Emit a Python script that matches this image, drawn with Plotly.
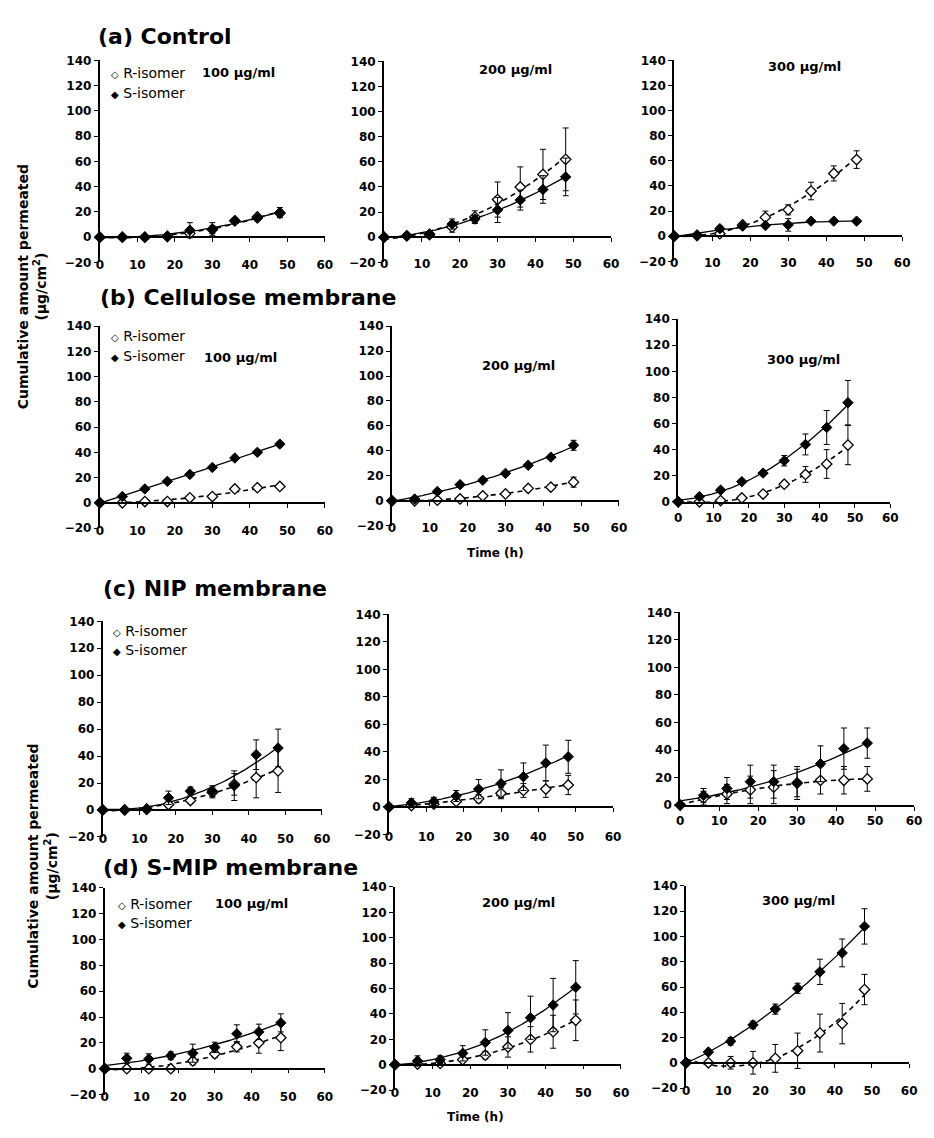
import numpy as np
import plotly.graph_objects as go

# ---------------- data ----------------
time_h = [0, 6, 12, 18, 24, 30, 36, 42, 48]
x_tick_vals = [0, 10, 20, 30, 40, 50, 60]
row_titles = ["(a) Control", "(b) Cellulose membrane", "(c) NIP membrane", "(d) S-MIP membrane"]
conc_labels = ["100 µg/ml", "200 µg/ml", "300 µg/ml"]
series_names = ["R-isomer", "S-isomer"]

# (a) Control
ctrl100_R = [0, 0, 0, 0.5, 3, 6, 13, 16, 19]
ctrl100_R_err = [0, 0, 0, 0.5, 2, 3, 2, 2, 3]
ctrl100_S = [0, 0, 0, 1, 5.5, 6.5, 13, 15, 19.5]
ctrl100_S_err = [0, 0, 0, 1, 6, 5, 2, 2, 4]
ctrl200_R = [0, 1, 2, 8, 16, 30, 40, 50, 62]
ctrl200_R_err = [0, 1, 1, 4, 5, 14, 16, 20, 25]
ctrl200_S = [0, 1.3, 2.6, 10.5, 14.4, 21.7, 29.6, 38, 48]
ctrl200_S_err = [0, 1, 1, 4, 3, 10, 8, 11, 15]
ctrl300_R = [0, 0.5, 2, 9, 15, 21, 36, 50, 61]
ctrl300_R_err = [0, 1, 1, 2, 5, 4, 7, 6, 7]
ctrl300_S = [0, 1, 6, 8, 8.5, 9, 12, 12, 12]
ctrl300_S_err = [0, 1, 2, 2, 1, 5, 1, 1, 1]

# (b) Cellulose membrane
cell100_R = [0, 0, 1, 1, 4, 5, 11, 12, 13]
cell100_R_err = [0, 0.5, 1, 1, 1, 1, 2, 1, 2]
cell100_S = [0, 5, 11, 17, 22.5, 28, 35.5, 40, 46.5]
cell100_S_err = [0, 1, 1, 1, 1, 1, 1.5, 1.5, 2]
cell200_R = [0, 0, 0.5, 1.5, 4, 5.5, 10, 11, 15]
cell200_R_err = [0, 0.5, 0.5, 1, 1, 1, 1.5, 1.5, 4]
cell200_S = [0, 1.5, 7.5, 13, 16.5, 22, 28.5, 35, 44.5]
cell200_S_err = [0, 0.5, 1, 1, 1, 1, 1, 1.5, 4]
cell300_R = [0, 0, 1, 3, 6, 13.5, 21, 29, 43.5]
cell300_R_err = [0, 0.5, 0.5, 1.5, 1.5, 2, 6, 11, 15]
cell300_S = [0, 4, 9, 15.5, 22, 31.5, 44, 57, 76]
cell300_S_err = [0, 1, 1, 1, 1, 4, 8, 13, 17]

# (c) NIP membrane
nip100_R = [0, 0, 0.5, 4, 7, 13, 19, 24, 29]
nip100_R_err = [0, 0, 0.5, 2, 2, 4, 8, 15, 16]
nip100_S = [0, 0, 1, 9, 14, 14, 18, 41, 46]
nip100_S_err = [0, 0, 0.5, 5, 3, 4, 11, 11, 14]
nip200_R = [0, 1, 2, 4, 6, 10, 12, 13, 16]
nip200_R_err = [0, 1, 1, 2, 3, 4, 5, 6, 7]
nip200_S = [0, 3, 4, 8, 13, 17, 22, 32, 36.5]
nip200_S_err = [0, 3, 3, 4, 7, 10, 10, 13, 12]
nip300_R = [0, 5, 8, 11, 13, 16, 18, 18, 19]
nip300_R_err = [0, 5, 7, 10, 12, 10, 10, 10, 9]
nip300_S = [0, 7, 12, 17, 17, 16, 30, 41, 45]
nip300_S_err = [0, 5, 8, 12, 12, 12, 13, 15, 11]

# (d) S-MIP membrane
smip100_R = [0, 0, 0, 0, 6, 11.5, 17, 20, 24]
smip100_R_err = [0, 0.5, 0.5, 0.5, 3, 3, 4, 8, 10]
smip100_S = [0, 8, 7.5, 10, 12, 16.5, 27, 28.5, 35.5]
smip100_S_err = [0, 4, 4, 3, 7, 4, 7, 6, 7]
smip200_R = [0, 0.5, 1, 4, 7.5, 14, 20, 26, 35]
smip200_R_err = [0, 0.5, 1, 2, 3, 8, 10, 13, 16]
smip200_S = [0, 3, 4, 9, 17.5, 27, 37, 47, 61]
smip200_S_err = [0, 4, 3, 6, 10, 14, 17, 21, 21]
smip300_R = [0, 0, 0, 0, 3.5, 9.5, 23.5, 31, 58]
smip300_R_err = [0, 2, 5, 9, 11, 14, 15, 16, 12]
smip300_S = [0, 8.5, 17, 30, 42.5, 59, 72, 87, 108]
smip300_S_err = [0, 2, 3, 3, 4, 4, 10, 11, 14]

panels = [
    (ctrl100_R, ctrl100_R_err, ctrl100_S, ctrl100_S_err),
    (ctrl200_R, ctrl200_R_err, ctrl200_S, ctrl200_S_err),
    (ctrl300_R, ctrl300_R_err, ctrl300_S, ctrl300_S_err),
    (cell100_R, cell100_R_err, cell100_S, cell100_S_err),
    (cell200_R, cell200_R_err, cell200_S, cell200_S_err),
    (cell300_R, cell300_R_err, cell300_S, cell300_S_err),
    (nip100_R, nip100_R_err, nip100_S, nip100_S_err),
    (nip200_R, nip200_R_err, nip200_S, nip200_S_err),
    (nip300_R, nip300_R_err, nip300_S, nip300_S_err),
    (smip100_R, smip100_R_err, smip100_S, smip100_S_err),
    (smip200_R, smip200_R_err, smip200_S, smip200_S_err),
    (smip300_R, smip300_R_err, smip300_S, smip300_S_err),
]

# ---------------- layout geometry (page pixels) ----------------
PAGE_W, PAGE_H = 934, 1138
OFF = 8                      # default body margin of the html page
W, H = PAGE_W - 2 * OFF, PAGE_H - 2 * OFF
FONT = "DejaVu Sans"

def fx(px):
    return (px - OFF) / W

def fy(py):
    return 1 - (py - OFF) / H

# x at value 0, x at value 60, y at value 140, y at value 0, y-axis minimum
geom = [
    (97, 325, 54, 233, -20), (385, 615, 55, 233, -20), (679, 910, 54, 232, -20),
    (97, 325, 323, 502, -20), (393, 623, 323, 500, -20), (683, 898, 316, 501, 0),
    (100, 322, 622, 813, -20), (390, 617, 615, 810, -20), (685, 922, 613, 808, 0),
    (102, 325, 892, 1075, -20), (396, 625, 891, 1071, -20), (691, 917, 890, 1069, -20),
]

fig = go.Figure()
layout = dict()
t_fine = np.linspace(0, 48, 97)

for i, ((R, Re, S, Se), (x0, x60, y140, y0, ymin)) in enumerate(zip(panels, geom)):
    n = i + 1
    xa = "x" if n == 1 else f"x{n}"
    ya = "y" if n == 1 else f"y{n}"
    xkey = "xaxis" if n == 1 else f"xaxis{n}"
    ykey = "yaxis" if n == 1 else f"yaxis{n}"
    ppu = (y0 - y140) / 140.0
    ybot = y0 - ymin * ppu

    # trend lines (2nd-order polynomial fit of the data)
    for vals, dash, w in ((R, "5px,4px", 1.6), (S, "solid", 1.3)):
        coef = np.polyfit(time_h, vals, 2)
        fig.add_trace(go.Scatter(x=t_fine, y=np.polyval(coef, t_fine), mode="lines",
                                 line=dict(color="black", width=w, dash=dash),
                                 xaxis=xa, yaxis=ya, showlegend=False, hoverinfo="skip"))
    # markers with error bars
    fig.add_trace(go.Scatter(x=time_h, y=R, mode="markers", name=series_names[0],
                             marker=dict(symbol="diamond", size=8, color="white",
                                         line=dict(color="black", width=1.3)),
                             error_y=dict(type="data", array=Re, color="black", thickness=1, width=3),
                             xaxis=xa, yaxis=ya, showlegend=False, cliponaxis=False))
    fig.add_trace(go.Scatter(x=time_h, y=S, mode="markers", name=series_names[1],
                             marker=dict(symbol="diamond", size=8, color="black",
                                         line=dict(color="black", width=1)),
                             error_y=dict(type="data", array=Se, color="black", thickness=1, width=3),
                             xaxis=xa, yaxis=ya, showlegend=False, cliponaxis=False))

    tickfont = dict(family=FONT, size=12, color="black", weight="bold")
    xaxis = dict(domain=[fx(x0), fx(x60)], range=[0, 60], tickvals=x_tick_vals,
                 showgrid=False, zeroline=False, showline=True, linecolor="black",
                 linewidth=1.5, ticks="outside", ticklen=4, tickwidth=1.2,
                 tickcolor="black", tickfont=tickfont)
    if ymin < 0:
        xaxis.update(anchor="free", position=fy(y0),
                     ticklabelstandoff=int(round(ybot - y0 - 13)))
    else:
        xaxis.update(anchor=ya)
    yaxis = dict(domain=[fy(ybot), fy(y140)], range=[ymin, 140], dtick=20,
                 anchor=xa, showgrid=False, zeroline=False, showline=True,
                 linecolor="black", linewidth=2, ticks="outside", ticklen=4,
                 tickwidth=1.2, tickcolor="black", tickfont=tickfont)
    layout[xkey] = xaxis
    layout[ykey] = yaxis

annotations = []
def px_ann(text, x, y, size, bold=False, xanchor="left", angle=0):
    annotations.append(dict(text=text, x=fx(x), y=fy(y), xref="paper", yref="paper",
                            xanchor=xanchor, yanchor="middle", showarrow=False, textangle=angle,
                            font=dict(family=FONT, size=size, color="black",
                                      weight="bold" if bold else "normal")))

# row titles
for title, (tx, ty) in zip(row_titles, [(93, 30), (95, 294), (98, 589), (98, 871)]):
    px_ann(title, tx, ty, 22, bold=True)

# concentration labels (rows a, b, d)
conc_pos = [[(237, 66), (518, 63), (811, 60)],
            [(240, 355), (521, 363), (810, 357)],
            None,
            [(251, 908), (521, 907), (805, 905)]]
for row in conc_pos:
    if row is None:
        continue
    for lab, (cx, cy) in zip(conc_labels, row):
        px_ann(lab, cx, cy, 13, bold=True, xanchor="center")

# legends (first column of each row)
for lx, ry, sy in [(106, 67, 87), (106, 333, 353), (108, 632, 651), (113, 908, 927)]:
    px_ann("<span style='font-size:10px'>◇</span> " + series_names[0], lx, ry, 14)
    px_ann("<span style='font-size:10px'>◆</span> " + series_names[1], lx, sy, 14)

# axis titles
ytitle = "Cumulative amount permeated<br>(µg/cm<sup>2</sup>)"
px_ann(ytitle, 28, 283, 14, bold=True, xanchor="center", angle=-90)
px_ann(ytitle, 39, 870, 14, bold=True, xanchor="center", angle=-90)
px_ann("Time (h)", 498, 553, 12, bold=True, xanchor="center")
px_ann("Time (h)", 478, 1124, 12, bold=True, xanchor="center")

fig.update_layout(width=W, height=H, margin=dict(l=0, r=0, t=0, b=0),
                  paper_bgcolor="white", plot_bgcolor="white",
                  showlegend=False, annotations=annotations, **layout)

fig.write_html("out.html", config={"displayModeBar": False})
